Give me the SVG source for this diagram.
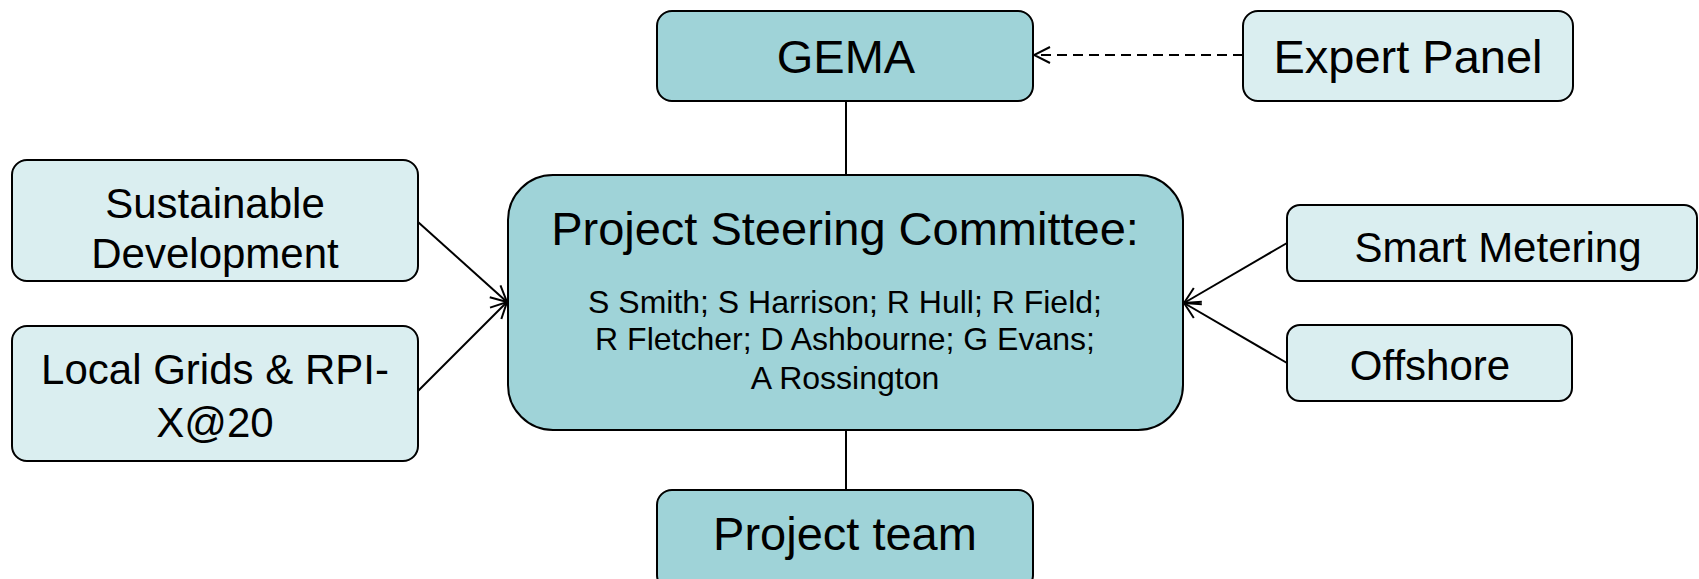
<svg xmlns="http://www.w3.org/2000/svg" width="1699" height="579" viewBox="0 0 1699 579">
  <style>
    .dark { fill: #9FD3D8; stroke: #000; stroke-width: 2; }
    .light { fill: #DAEEF0; stroke: #000; stroke-width: 2; }
    .t { font-family: "Liberation Sans", Arial, sans-serif; fill: #000; text-anchor: middle; }
    .big { font-size: 47px; }
    .mid { font-size: 42px; }
    .small { font-size: 32px; }
    .conn { stroke: #000; stroke-width: 2; fill: none; }
  </style>
  <defs>
    <marker id="arr" viewBox="-20 -10 22 20" refX="0" refY="0" markerWidth="22" markerHeight="20" markerUnits="userSpaceOnUse" orient="auto">
      <path d="M-16,-8 L0,0 L-16,8" fill="none" stroke="#000" stroke-width="2"/>
    </marker>
  </defs>
  <rect width="1699" height="579" fill="#fff"/>
  <g id="connectors">
    <line class="conn" x1="846" y1="101" x2="846" y2="175"/>
    <line class="conn" x1="846" y1="430" x2="846" y2="490"/>
    <line class="conn" x1="1243" y1="55" x2="1034" y2="55" stroke-dasharray="10,6" marker-end="url(#arr)"/>
    <line class="conn" x1="418" y1="222" x2="507" y2="302" marker-end="url(#arr)"/>
    <line class="conn" x1="418" y1="391" x2="507" y2="302" marker-end="url(#arr)"/>
    <line class="conn" x1="1287" y1="243" x2="1184" y2="303" marker-end="url(#arr)"/>
    <line class="conn" x1="1287" y1="363" x2="1184" y2="303" marker-end="url(#arr)"/>
  </g>
  <g id="gema">
    <rect class="dark" x="657" y="11" width="376" height="90" rx="15"/>
    <text class="t big" x="846" y="73">GEMA</text>
  </g>
  <g id="expert-panel">
    <rect class="light" x="1243" y="11" width="330" height="90" rx="15"/>
    <text class="t big" x="1408" y="73">Expert Panel</text>
  </g>
  <g id="steering-committee">
    <rect class="dark" x="508" y="175" width="675" height="255" rx="45"/>
    <text class="t big" x="845" y="245">Project Steering Committee:</text>
    <text class="t small" x="845" y="313">S Smith; S Harrison; R Hull; R Field;</text>
    <text class="t small" x="845" y="350">R Fletcher; D Ashbourne; G Evans;</text>
    <text class="t small" x="845" y="389">A Rossington</text>
  </g>
  <g id="sustainable-development">
    <rect class="light" x="12" y="160" width="406" height="121" rx="15"/>
    <text class="t mid" x="215" y="218">Sustainable</text>
    <text class="t mid" x="215" y="268">Development</text>
  </g>
  <g id="local-grids">
    <rect class="light" x="12" y="326" width="406" height="135" rx="15"/>
    <text class="t mid" x="215" y="384">Local Grids &amp; RPI-</text>
    <text class="t mid" x="215" y="437">X@20</text>
  </g>
  <g id="smart-metering">
    <rect class="light" x="1287" y="205" width="410" height="76" rx="13"/>
    <text class="t mid" x="1498" y="262">Smart Metering</text>
  </g>
  <g id="offshore">
    <rect class="light" x="1287" y="325" width="285" height="76" rx="13"/>
    <text class="t mid" x="1430" y="380">Offshore</text>
  </g>
  <g id="project-team">
    <rect class="dark" x="657" y="490" width="376" height="100" rx="15"/>
    <text class="t big" x="845" y="550">Project team</text>
  </g>
</svg>
